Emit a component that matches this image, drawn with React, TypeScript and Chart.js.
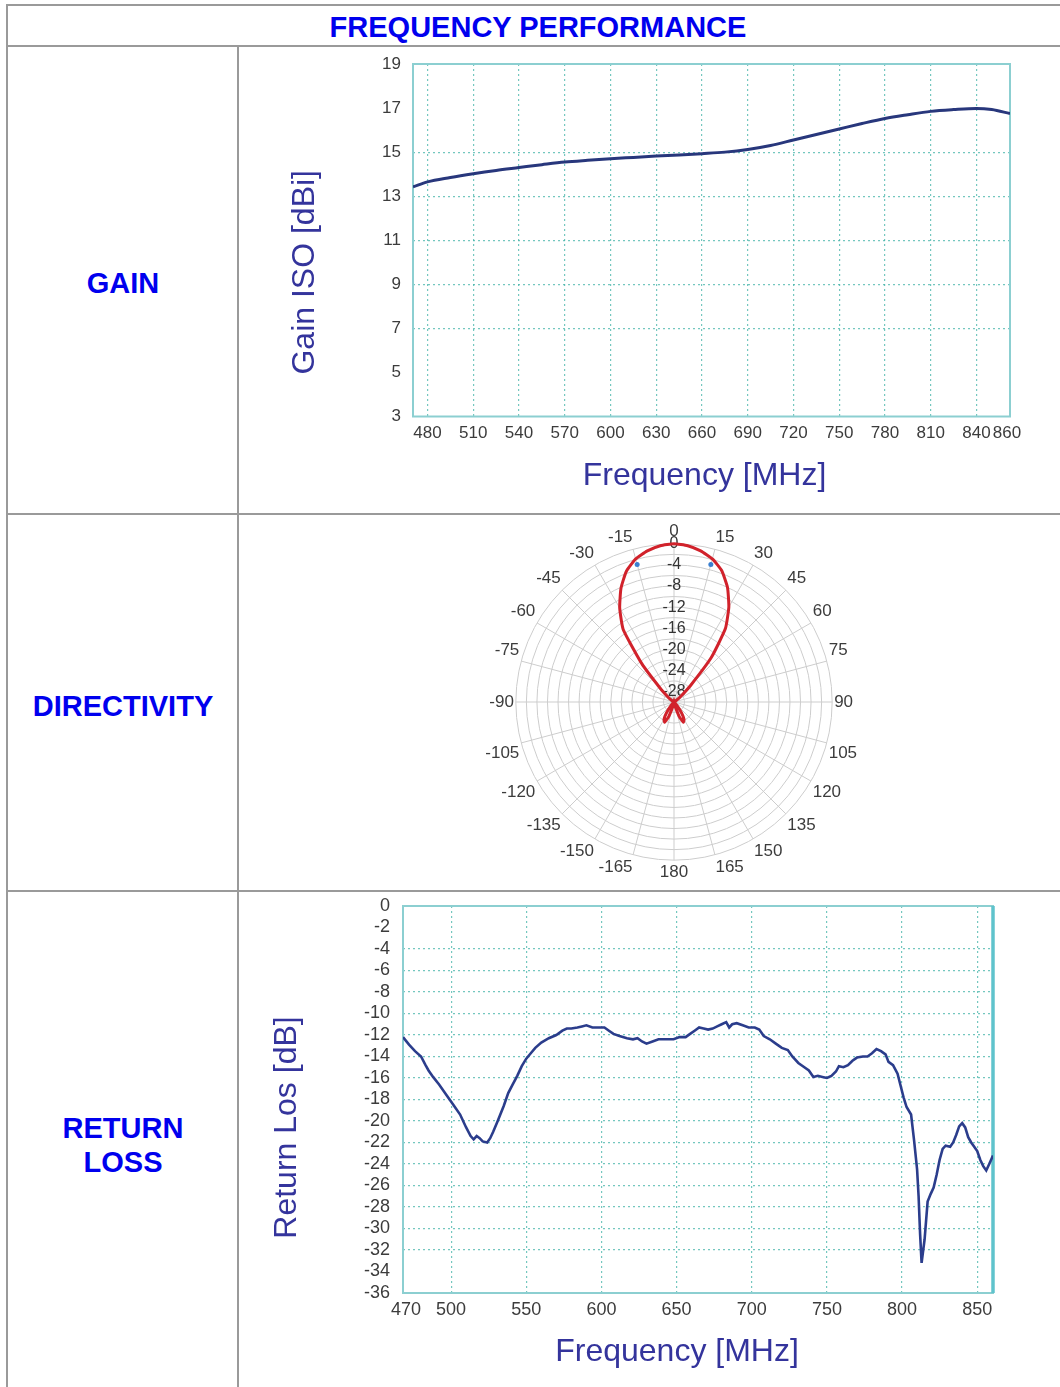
import React, { useEffect, useRef } from 'react';
import { Chart, registerables } from 'chart.js';

Chart.register(...registerables);

const FONT = "'Liberation Sans', Arial, Helvetica, sans-serif";
Chart.defaults.font.family = FONT;

// ---------- GAIN ----------
const GAIN_FREQ_MHZ = [470.5, 480, 495, 510, 525, 540, 555, 570, 585, 600, 615, 630, 645, 660, 675, 690, 705, 720, 735, 750, 765, 780, 795, 810, 825, 840, 850, 862];
const GAIN_DBI = [13.42, 13.65, 13.85, 14.02, 14.17, 14.3, 14.43, 14.55, 14.63, 14.7, 14.76, 14.82, 14.87, 14.93, 15.0, 15.12, 15.3, 15.55, 15.8, 16.05, 16.3, 16.53, 16.7, 16.85, 16.93, 16.98, 16.93, 16.75];
const GAIN_X_TICKS = [480, 510, 540, 570, 600, 630, 660, 690, 720, 750, 780, 810, 840, 860];
const GAIN_Y_TICKS = [3, 5, 7, 9, 11, 13, 15, 17, 19];

// ---------- DIRECTIVITY ----------
const ANGLES_DEG = [0, 5, 10, 15, 20, 25, 30, 35, 40, 45, 50, 55, 60, 65, 70, 75, 80, 85, 90, 95, 100, 105, 110, 115, 120, 125, 130, 135, 140, 145, 150, 155, 160, 165, 170, 175, 180, 185, 190, 195, 200, 205, 210, 215, 220, 225, 230, 235, 240, 245, 250, 255, 260, 265, 270, 275, 280, 285, 290, 295, 300, 305, 310, 315, 320, 325, 330, 335, 340, 345, 350, 355];
const DIRECTIVITY_DB = [0, -0.25, -0.9, -1.9, -3.5, -6.0, -9.2, -13.0, -19.0, -25.5, -28.3, -29.5,
  -30, -30, -30, -30, -30, -30, -30, -30, -30, -30, -30, -30, -30, -30, -30,
  -30, -29, -27.5, -26.2, -25.8, -27, -29, -30, -30,
  -30, -30, -30, -29, -27, -25.8, -26.2, -27.5, -29,
  -30, -30, -30, -30, -30, -30, -30, -30, -30, -30, -30, -30, -30, -30, -30, -30,
  -29.5, -28.5, -26.3, -20.5, -13.2, -9.4, -6.2, -3.6, -1.9, -0.9, -0.25];
const MARKER_ANGLES_DEG = [15, 345];
const MARKER_DB = [-3, -3];
const RADIAL_TICKS_DB = [0, -4, -8, -12, -16, -20, -24, -28];

// ---------- RETURN LOSS ----------
const RL_FREQ_MHZ = [468, 472, 476, 480, 483, 485, 488, 492, 497, 501, 506, 510, 513, 515, 517, 519, 521, 524, 526, 528, 531, 535, 538, 541, 544, 547, 550, 553, 556, 560, 565, 570, 574, 577, 580, 584, 587, 590, 594, 598, 602, 605, 608, 612, 617, 621, 624, 627, 630, 634, 638, 643, 648, 652, 656, 659, 662, 665, 668, 671, 674, 677, 680, 683, 685, 687, 690, 694, 698, 702, 705, 708, 712, 716, 720, 724, 727, 731, 735, 738, 741, 744, 747, 750, 753, 756, 758, 761, 764, 767, 770, 774, 777, 780, 783, 786, 789, 791, 794, 797, 799, 801, 803, 806, 808, 810, 811, 812, 813, 815, 817, 819, 821, 823, 825, 827, 829, 832, 834, 836, 838, 840, 842, 844, 846, 848, 850, 852, 854, 856, 858, 860.5];
const RL_DB = [-12.2, -12.9, -13.5, -14.0, -14.8, -15.3, -15.9, -16.6, -17.6, -18.4, -19.4, -20.6, -21.4, -21.7, -21.4, -21.6, -21.9, -22.0, -21.6, -21.0, -20.0, -18.6, -17.4, -16.6, -15.8, -14.9, -14.2, -13.7, -13.2, -12.7, -12.3, -12.0, -11.6, -11.4, -11.4, -11.3, -11.2, -11.1, -11.3, -11.3, -11.3, -11.6, -11.9, -12.1, -12.3, -12.4, -12.3, -12.6, -12.8, -12.6, -12.4, -12.4, -12.4, -12.2, -12.2, -11.9, -11.6, -11.3, -11.4, -11.5, -11.4, -11.2, -11.0, -10.8, -11.3, -11.0, -10.9, -11.1, -11.3, -11.3, -11.5, -12.1, -12.4, -12.8, -13.2, -13.4, -14.0, -14.6, -15.0, -15.3, -15.9, -15.8, -15.9, -16.0, -15.8, -15.4, -14.9, -15.0, -14.8, -14.4, -14.1, -14.0, -14.0, -13.7, -13.3, -13.5, -13.8, -14.5, -14.8, -15.6, -16.7, -17.8, -18.7, -19.4, -21.8, -24.5, -27.0, -30.5, -33.2, -31.0, -27.5, -26.8, -26.2, -25.0, -23.6, -22.6, -22.3, -22.4, -22.0, -21.3, -20.5, -20.2, -20.6, -21.5, -22.0, -22.4, -22.8, -23.6, -24.2, -24.6, -24.0, -23.2];
const RL_X_TICKS = [470, 500, 550, 600, 650, 700, 750, 800, 850];
const RL_Y_TICKS = [0, -2, -4, -6, -8, -10, -12, -14, -16, -18, -20, -22, -24, -26, -28, -30, -32, -34, -36];

// ---------- styles ----------
const GRID = 'rgba(70,180,170,0.75)';
const FRAME = '#8ccfd1';
const TICK_COLOR = '#3c3c3c';
const TITLE_COLOR = '#34349c';
const LABEL_BLUE = '#0000ee';
const LINE_GRAY = '#9a9a9a';

const framePlugin = {
  id: 'plotFrame',
  beforeDatasetsDraw(chart: any, _args: any, opts: any) {
    if (!opts || !opts.color) return;
    const { ctx, chartArea: a } = chart;
    ctx.save();
    ctx.strokeStyle = opts.color;
    ctx.lineWidth = opts.width;
    ctx.strokeRect(a.left, a.top, a.right - a.left, a.bottom - a.top);
    if (opts.rightWidth) {
      ctx.strokeStyle = opts.rightColor || opts.color;
      ctx.lineWidth = opts.rightWidth;
      ctx.beginPath();
      ctx.moveTo(a.right, a.top);
      ctx.lineTo(a.right, a.bottom);
      ctx.stroke();
    }
    ctx.restore();
  },
};

const axisTitlePlugin = {
  id: 'axisTitles',
  afterDraw(chart: any, _args: any, opts: any) {
    if (!opts || !opts.xText) return;
    const { ctx, chartArea: a } = chart;
    const cx = (a.left + a.right) / 2;
    const cy = (a.top + a.bottom) / 2;
    ctx.save();
    ctx.fillStyle = opts.color;
    ctx.font = `${opts.size}px ${FONT}`;
    ctx.textAlign = 'center';
    ctx.textBaseline = 'middle';
    ctx.fillText(opts.xText, cx + opts.xDx, a.bottom + opts.xDy);
    ctx.translate(a.left + opts.yDx, cy + opts.yDy);
    ctx.rotate(-Math.PI / 2);
    ctx.fillText(opts.yText, 0, 0);
    ctx.restore();
  },
};

const innerGridColor = (c: any) => {
  const v = c.tick ? c.tick.value : undefined;
  const s = c.scale;
  return v !== undefined && v > s.min + 2 && v < s.max - 2 ? GRID : 'transparent';
};

function lineConfig(p: any) {
  return {
    type: 'line',
    data: {
      datasets: [
        {
          data: p.xs.map((x: number, i: number) => ({ x, y: p.ys[i] })),
          borderColor: p.lineColor,
          borderWidth: p.lineWidth,
          pointRadius: 0,
          fill: false,
          tension: p.tension,
          cubicInterpolationMode: p.tension > 0 ? 'monotone' : 'default',
        },
      ],
    },
    options: {
      responsive: false,
      animation: false,
      events: [],
      layout: { padding: p.pad },
      plugins: {
        legend: { display: false },
        tooltip: { enabled: false },
        plotFrame: p.frame,
        axisTitles: p.titles,
      },
      scales: {
        x: {
          type: 'linear',
          min: p.xMin,
          max: p.xMax,
          afterBuildTicks: (s: any) => {
            s.ticks = p.xTicks.map((v: number) => ({ value: v }));
          },
          afterFit: (s: any) => {
            s.height = p.xAxisHeight;
          },
          grid: { color: innerGridColor, lineWidth: 1.2, drawTicks: false },
          border: { display: false, dash: [2, 3] },
          ticks: { padding: p.tickPadX, color: TICK_COLOR, font: { size: p.tickSize, family: FONT }, maxRotation: 0, autoSkip: false },
        },
        y: {
          type: 'linear',
          min: p.yMin,
          max: p.yMax,
          afterBuildTicks: (s: any) => {
            s.ticks = p.yTicks.map((v: number) => ({ value: v }));
          },
          afterFit: (s: any) => {
            s.width = p.yAxisWidth;
          },
          grid: { color: innerGridColor, lineWidth: 1.2, drawTicks: true, tickLength: p.tickPadY, tickColor: 'transparent' },
          border: { display: false, dash: [2, 3] },
          ticks: { padding: 0, color: TICK_COLOR, font: { size: p.tickSize, family: FONT }, autoSkip: false },
        },
      },
    },
    plugins: [framePlugin, axisTitlePlugin],
  };
}

const gainConfig = () =>
  lineConfig({
    xs: GAIN_FREQ_MHZ,
    ys: GAIN_DBI,
    xMin: 470.5,
    xMax: 862,
    yMin: 3,
    yMax: 19,
    xTicks: GAIN_X_TICKS,
    yTicks: GAIN_Y_TICKS,
    lineColor: '#28377c',
    lineWidth: 3,
    tension: 0.4,
    pad: { left: 114, right: 50, top: 17, bottom: 0 },
    yAxisWidth: 60,
    xAxisHeight: 96.5,
    tickSize: 17,
    tickPadX: 7,
    tickPadY: 12,
    frame: { color: FRAME, width: 2 },
    titles: { xText: 'Frequency [MHz]', yText: 'Gain ISO [dBi]', color: TITLE_COLOR, size: 32, xDx: -7, xDy: 59.5, yDx: -107.5, yDy: 32 },
  });

const returnConfig = () =>
  lineConfig({
    xs: RL_FREQ_MHZ,
    ys: RL_DB,
    xMin: 468,
    xMax: 860.5,
    yMin: -36,
    yMax: 0,
    xTicks: RL_X_TICKS,
    yTicks: RL_Y_TICKS,
    lineColor: '#2b3d8c',
    lineWidth: 2.6,
    tension: 0,
    pad: { left: 104, right: 67, top: 15, bottom: 0 },
    yAxisWidth: 60,
    xAxisHeight: 94,
    tickSize: 18,
    tickPadX: 6,
    tickPadY: 13,
    frame: { color: FRAME, width: 2, rightColor: '#5fc3cc', rightWidth: 3.5 },
    titles: { xText: 'Frequency [MHz]', yText: 'Return Los [dB]', color: TITLE_COLOR, size: 32, xDx: -21, xDy: 59, yDx: -116, yDy: 28 },
  });

const directivityConfig = () => ({
  type: 'radar',
  data: {
    labels: ANGLES_DEG,
    datasets: [
      {
        data: DIRECTIVITY_DB,
        borderColor: '#d1222b',
        borderWidth: 3,
        pointRadius: 0,
        fill: false,
        tension: 0.15,
      },
      {
        data: ANGLES_DEG.map((a) => {
          const k = MARKER_ANGLES_DEG.indexOf(a);
          return k >= 0 ? MARKER_DB[k] : null;
        }),
        showLine: false,
        borderWidth: 0,
        pointRadius: 2.5,
        pointBorderWidth: 0,
        pointBackgroundColor: '#3a7fd0',
      },
    ],
  },
  options: {
    responsive: false,
    animation: false,
    events: [],
    layout: { padding: 0 },
    plugins: { legend: { display: false }, tooltip: { enabled: false } },
    scales: {
      r: {
        min: -30,
        max: 0,
        grid: { circular: true, color: '#cdcdcd', lineWidth: 1 },
        angleLines: {
          color: '#cdcdcd',
          lineWidth: (c: any) => (ANGLES_DEG[c.index] % 15 === 0 ? 1 : 0),
        },
        pointLabels: {
          padding: -6,
          color: TICK_COLOR,
          font: { size: 17, family: FONT },
          callback: (label: any) => {
            const a = Number(label);
            return a % 15 === 0 ? String(a > 180 ? a - 360 : a) : '';
          },
        },
        ticks: {
          stepSize: 2,
          showLabelBackdrop: false,
          backdropPadding: 0,
          color: '#333',
          font: { size: 16, family: FONT },
          callback: (v: any) => (RADIAL_TICKS_DB.includes(v) ? String(v) : ''),
        },
      },
    },
  },
});

function ChartCanvas({ config, left, top, width, height }: any) {
  const ref = useRef<HTMLCanvasElement>(null);
  useEffect(() => {
    const chart = new Chart(ref.current as HTMLCanvasElement, config() as any);
    return () => chart.destroy();
  }, []);
  return (
    <canvas
      ref={ref}
      width={width}
      height={height}
      style={{ position: 'absolute', left, top, width, height }}
    />
  );
}

const hLine = (top: number, left: number) => (
  <div style={{ position: 'absolute', top, left, width: 1100, height: 2, background: LINE_GRAY }} />
);

const labelStyle: React.CSSProperties = {
  position: 'absolute',
  left: 8,
  width: 230,
  textAlign: 'center',
  fontFamily: FONT,
  fontWeight: 'bold',
  fontSize: 29,
  lineHeight: '34px',
  color: LABEL_BLUE,
};

export default function App() {
  return (
    <div
      style={{
        position: 'relative',
        width: 1060,
        height: 1387,
        overflow: 'hidden',
        background: '#fff',
        fontFamily: FONT,
      }}
    >
      <style>{'body{margin:0;}'}</style>
      {hLine(4, 6)}
      {hLine(45, 6)}
      {hLine(513, 6)}
      {hLine(890, 6)}
      <div style={{ position: 'absolute', left: 6, top: 4, width: 2, height: 1400, background: LINE_GRAY }} />
      <div style={{ position: 'absolute', left: 237, top: 45, width: 2, height: 1400, background: LINE_GRAY }} />

      <div style={{ ...labelStyle, left: 0, width: 1076, top: 10 }}>FREQUENCY PERFORMANCE</div>
      <div style={{ ...labelStyle, top: 266 }}>GAIN</div>
      <div style={{ ...labelStyle, top: 689 }}>DIRECTIVITY</div>
      <div style={{ ...labelStyle, top: 1111 }}>
        RETURN
        <br />
        LOSS
      </div>

      <ChartCanvas config={gainConfig} left={239} top={47} width={821} height={466} />
      <ChartCanvas config={directivityConfig} left={482} top={513} width={379} height={379} />
      <ChartCanvas config={returnConfig} left={239} top={891} width={821} height={496} />
    </div>
  );
}
